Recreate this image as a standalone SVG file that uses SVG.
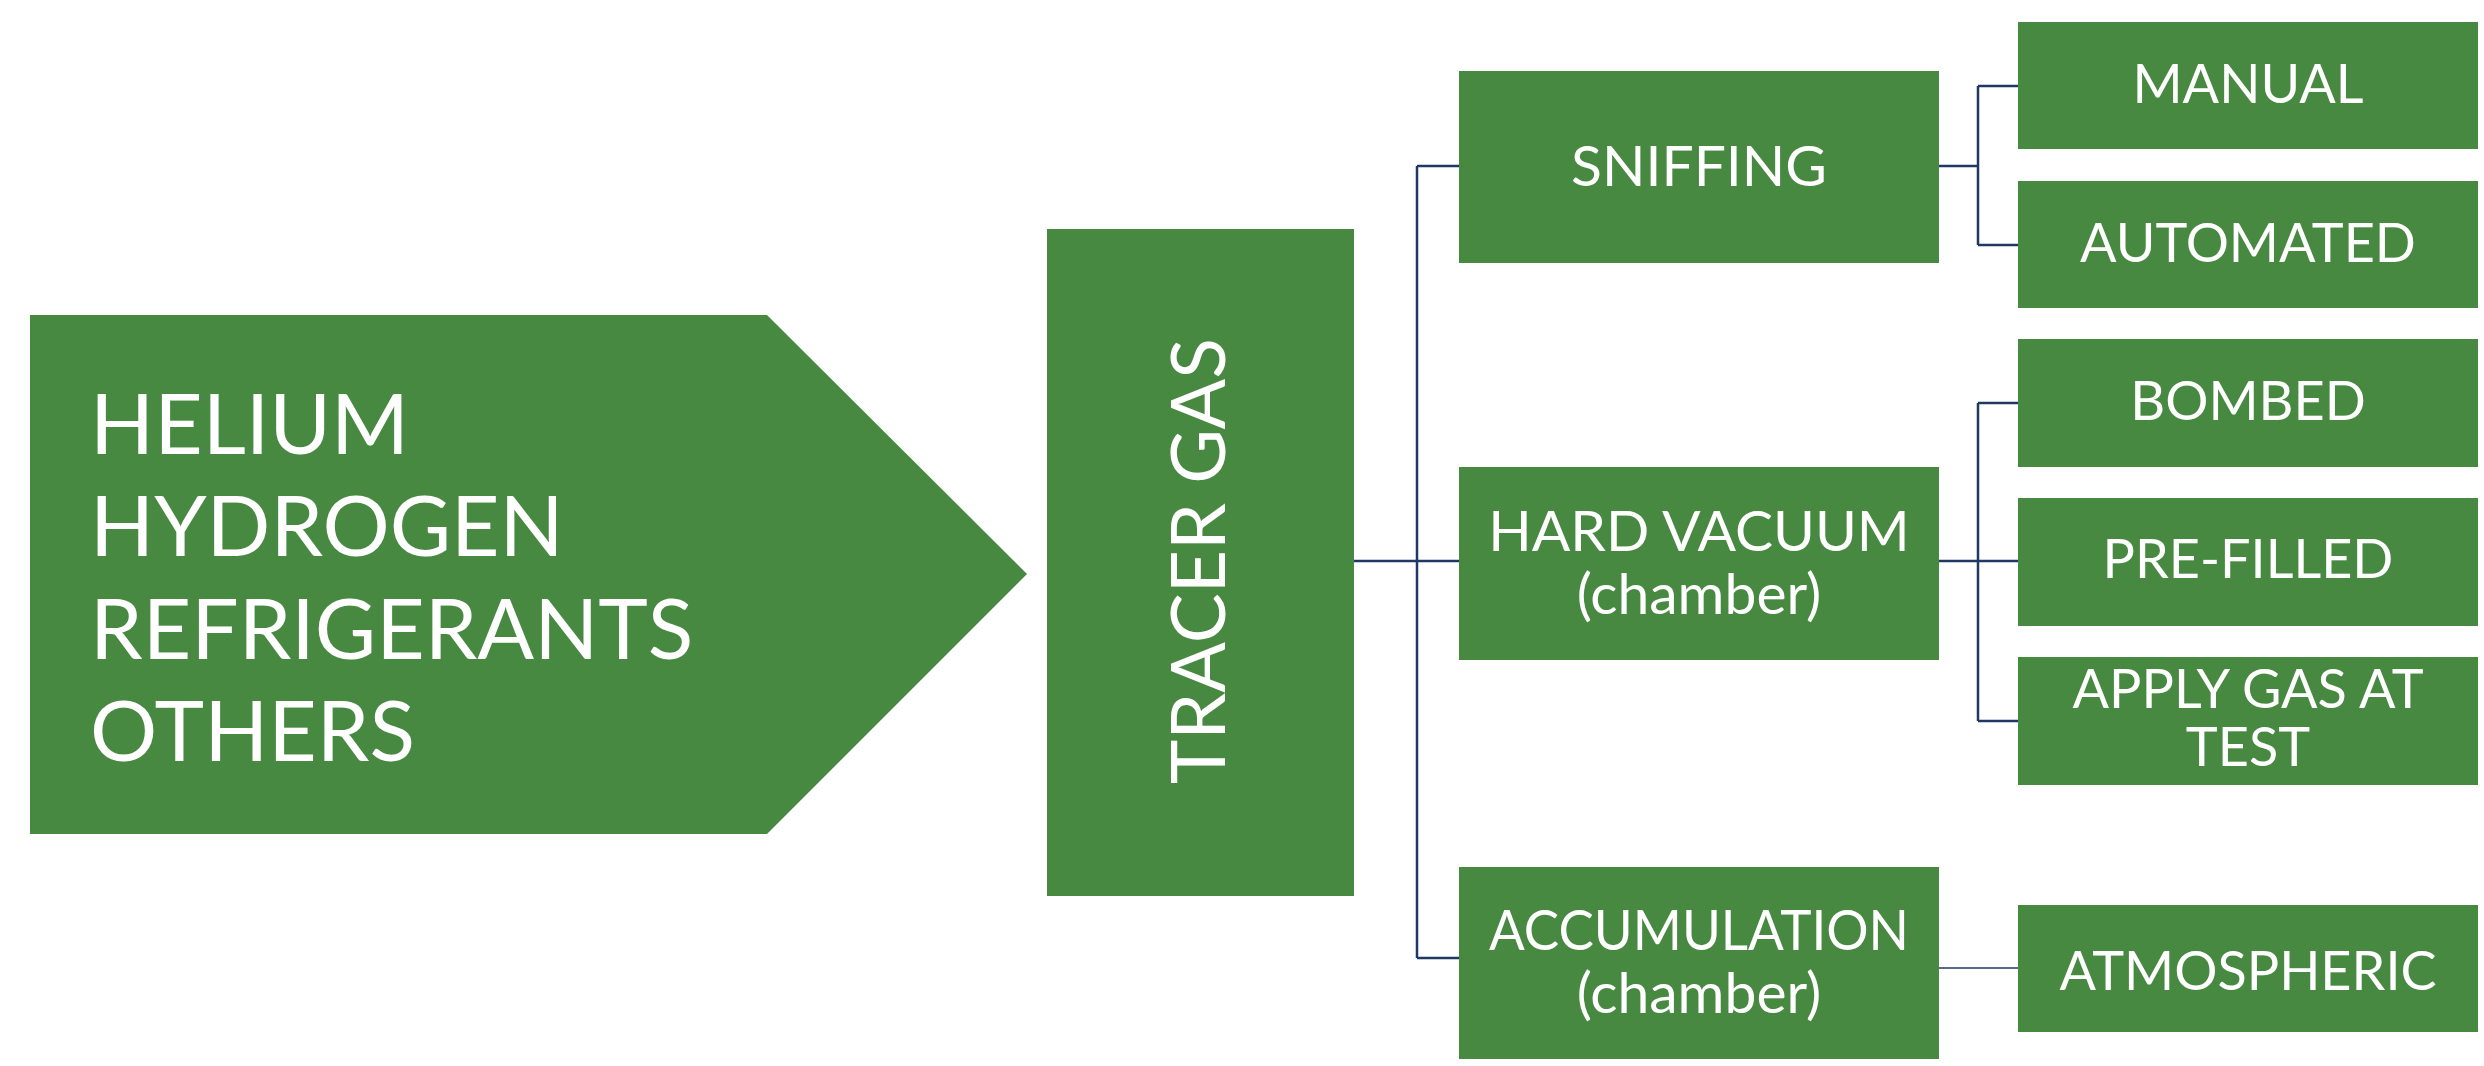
<svg xmlns="http://www.w3.org/2000/svg" width="2484" height="1066" viewBox="0 0 2484 1066">
<style>
.n{fill:#488941}
.t{fill:#fff;font-family:Lato,"Liberation Sans",sans-serif;text-anchor:middle}
.m{font-size:57px}
.r{font-size:54px}
.c{fill:none;stroke:#1f3864;stroke-width:2.5}
</style>
<rect width="2484" height="1066" fill="#fff"/>
<g id="connectors">
<path class="c" d="M1354,561H1459M1417,166V958M1417,166H1459M1417,958H1459"/>
<path class="c" d="M1939,166H1978M1978,86V245M1978,86H2018M1978,245H2018"/>
<path class="c" d="M1939,561H2018M1978,403V721M1978,403H2018M1978,721H2018"/>
<path class="c" d="M1939,968H2018" style="stroke-width:1.5"/>
</g>
<g id="gases">
<polygon class="n" points="30,315 767,315 1027,574 767,834 30,834"/>
<text style="fill:#fff;font-family:Lato,'Liberation Sans',sans-serif;font-size:84px">
<tspan x="90" y="454">HELIUM</tspan>
<tspan x="90" y="556">HYDROGEN</tspan>
<tspan x="90" y="659">REFRIGERANTS</tspan>
<tspan x="90" y="761">OTHERS</tspan>
</text>
</g>
<g id="tracer">
<rect class="n" x="1047" y="229" width="307" height="667"/>
<text class="t" transform="translate(1225,561) rotate(-90)" style="font-size:75px">TRACER GAS</text>
</g>
<g id="sniffing">
<rect class="n" x="1459" y="71" width="480" height="192"/>
<text class="t m" x="1699" y="186">SNIFFING</text>
</g>
<g id="hardvacuum">
<rect class="n" x="1459" y="467" width="480" height="193"/>
<text class="t m"><tspan x="1699" y="551">HARD VACUUM</tspan><tspan x="1699" y="614">(chamber)</tspan></text>
</g>
<g id="accumulation">
<rect class="n" x="1459" y="867" width="480" height="192"/>
<text class="t m" x="1699" y="950" textLength="420" lengthAdjust="spacingAndGlyphs">ACCUMULATION</text>
<text class="t m" x="1699" y="1013">(chamber)</text>
</g>
<g id="manual">
<rect class="n" x="2018" y="22" width="460" height="127"/>
<text class="t r" x="2248" y="103">MANUAL</text>
</g>
<g id="automated">
<rect class="n" x="2018" y="181" width="460" height="127"/>
<text class="t r" x="2248" y="262">AUTOMATED</text>
</g>
<g id="bombed">
<rect class="n" x="2018" y="339" width="460" height="128"/>
<text class="t r" x="2248" y="420">BOMBED</text>
</g>
<g id="prefilled">
<rect class="n" x="2018" y="498" width="460" height="128"/>
<text class="t r" x="2248" y="578">PRE-FILLED</text>
</g>
<g id="applygas">
<rect class="n" x="2018" y="657" width="460" height="128"/>
<text class="t r"><tspan x="2248" y="708">APPLY GAS AT</tspan><tspan x="2248" y="766">TEST</tspan></text>
</g>
<g id="atmospheric">
<rect class="n" x="2018" y="905" width="460" height="127"/>
<text class="t r" x="2248" y="990">ATMOSPHERIC</text>
</g>
</svg>
